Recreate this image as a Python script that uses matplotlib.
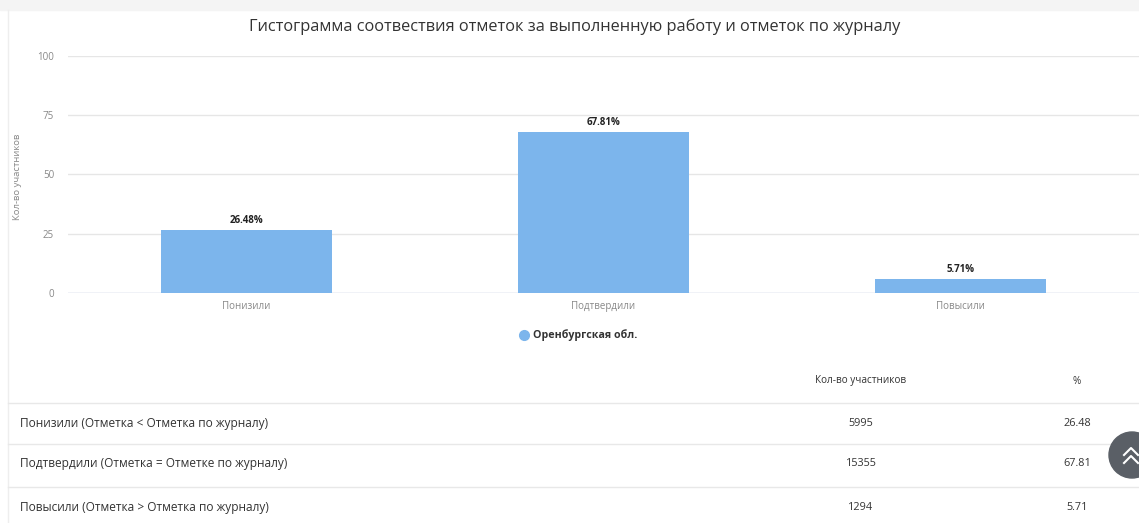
import matplotlib
matplotlib.use("Agg")
import matplotlib.pyplot as plt
from matplotlib.lines import Line2D
from matplotlib.patches import Ellipse

plt.rcParams['font.family'] = ['Open Sans', 'DejaVu Sans']

categories = ['Понизили', 'Подтвердили', 'Повысили']
percents = [26.48, 67.81, 5.71]
counts = [5995, 15355, 1294]
row_labels = ['Понизили (Отметка < Отметка по журналу)',
              'Подтвердили (Отметка = Отметке по журналу)',
              'Повысили (Отметка > Отметка по журналу)']
yticks = [0, 25, 50, 75, 100]
series_name = 'Оренбургская обл.'
title = 'Гистограмма соотвествия отметок за выполненную работу и отметок по журналу'

W, H = 1139, 523
fig = plt.figure(figsize=(W / 100, H / 100), dpi=100)
fig.patch.set_facecolor('white')

# light band on top and left border like the page
fig.add_artist(plt.Rectangle((0, 1 - 10 / H), 1, 10 / H, transform=fig.transFigure,
                             color='#f4f4f4', zorder=0))
fig.add_artist(Line2D([8 / W, 8 / W], [0, 1 - 10 / H], transform=fig.transFigure,
                      color='#eeeeee', lw=1))

ax = fig.add_axes([68 / W, 1 - 293 / H, 1 - 68 / W, (293 - 56) / H])
x = range(len(categories))
bars = ax.bar(x, percents, width=0.48, color='#7cb5ec', zorder=3)
for b, p in zip(bars, percents):
    ax.text(b.get_x() + b.get_width() / 2, p + 1.8, f'{p:.2f}%', ha='center', va='bottom',
            fontsize=7, fontweight='bold', color='#222222', zorder=4)

ax.set_xlim(-0.5, 2.5)
ax.set_ylim(0, 100)
ax.set_yticks(yticks)
ax.set_xticks(list(x))
ax.set_xticklabels(categories)
ax.tick_params(axis='both', length=0, labelsize=7, colors='#888888')
ax.tick_params(axis='y', pad=10)
ax.tick_params(axis='x', pad=6)
ax.grid(axis='y', color='#e6e6e6', lw=1, zorder=0)
for s in ax.spines.values():
    s.set_visible(False)
ax.axhline(0, color='#ccd6eb', lw=1, zorder=2)
ax.set_ylabel('Кол-во участников', fontsize=6.8, color='#888888')
ax.yaxis.set_label_coords(-0.043, 0.49)

fig.text(575 / W, 1 - 27 / H, title, ha='center', va='center', fontsize=11.8, color='#333333')

# legend
fig.add_artist(Line2D([524 / W], [1 - 335 / H], marker='o', markersize=7,
                      color='#7cb5ec', transform=fig.transFigure))
fig.text(533 / W, 1 - 335 / H, series_name, ha='left', va='center', fontsize=7.7,
         fontweight='bold', color='#333333')

# table below the chart
fig.text(861 / W, 1 - 381 / H, 'Кол-во участников', ha='center', va='center',
         fontsize=7.2, color='#333333')
fig.text(1077 / W, 1 - 381 / H, '%', ha='center', va='center', fontsize=7.2, color='#333333')
line_y = [403, 444, 487]
row_y = [423, 464, 507]
for ly in line_y:
    fig.add_artist(Line2D([8 / W, 1], [1 - ly / H] * 2, transform=fig.transFigure,
                          color='#e8e8e8', lw=1))
for ry, lab, c, p in zip(row_y, row_labels, counts, percents):
    fig.text(20 / W, 1 - ry / H, lab, ha='left', va='center', fontsize=8.6, color='#333333')
    fig.text(861 / W, 1 - ry / H, str(c), ha='center', va='center', fontsize=7.8, color='#333333')
    fig.text(1077 / W, 1 - ry / H, f'{p:.2f}', ha='center', va='center', fontsize=7.8,
             color='#333333')

# scroll-to-top button on the page
fig.add_artist(Ellipse((1132 / W, 1 - 455 / H), 46 / W, 46 / H, transform=fig.transFigure,
                       color='#5a5f66', zorder=5))
for dy in (-4, 4):
    fig.add_artist(Line2D([1124 / W, 1131 / W, 1138 / W],
                          [1 - (459 + dy) / H, 1 - (452 + dy) / H, 1 - (459 + dy) / H],
                          transform=fig.transFigure, color='white', lw=1.5, zorder=6))

fig.savefig('out.png', dpi=100)
